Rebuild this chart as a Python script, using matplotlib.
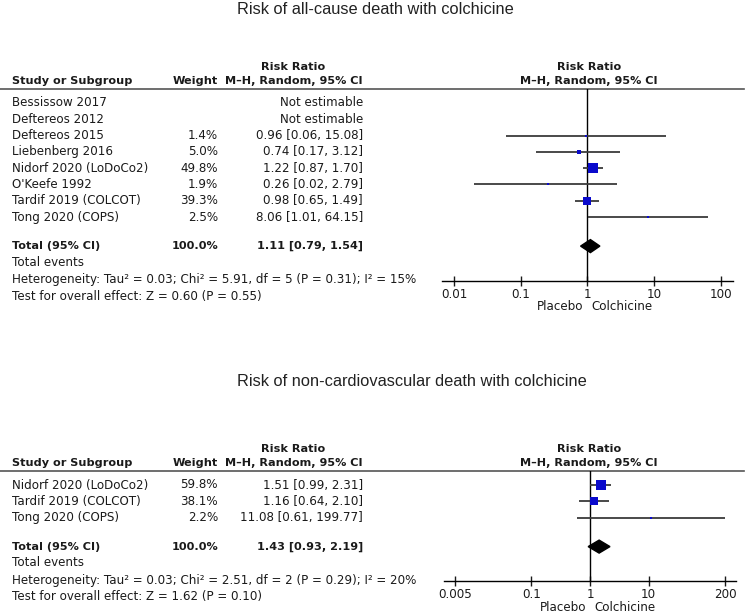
import numpy as np
import matplotlib
matplotlib.use('Agg')
import matplotlib.pyplot as plt
from matplotlib.patches import Polygon

# panel 1 - all-cause death
studies1 = ['Bessissow 2017', 'Deftereos 2012', 'Deftereos 2015', 'Liebenberg 2016',
            'Nidorf 2020 (LoDoCo2)', "O'Keefe 1992", 'Tardif 2019 (COLCOT)', 'Tong 2020 (COPS)']
weight1 = [None, None, 1.4, 5.0, 49.8, 1.9, 39.3, 2.5]
rr1 = [None, None, 0.96, 0.74, 1.22, 0.26, 0.98, 8.06]
lo1 = [None, None, 0.06, 0.17, 0.87, 0.02, 0.65, 1.01]
hi1 = [None, None, 15.08, 3.12, 1.70, 2.79, 1.49, 64.15]
total1 = (1.11, 0.79, 1.54)
het1 = 'Heterogeneity: Tau\u00b2 = 0.03; Chi\u00b2 = 5.91, df = 5 (P = 0.31); I\u00b2 = 15%'
test1 = 'Test for overall effect: Z = 0.60 (P = 0.55)'
ticks1 = [0.01, 0.1, 1, 10, 100]
ticklabels1 = ['0.01', '0.1', '1', '10', '100']

# panel 2 - non-cardiovascular death
studies2 = ['Nidorf 2020 (LoDoCo2)', 'Tardif 2019 (COLCOT)', 'Tong 2020 (COPS)']
weight2 = [59.8, 38.1, 2.2]
rr2 = [1.51, 1.16, 11.08]
lo2 = [0.99, 0.64, 0.61]
hi2 = [2.31, 2.10, 199.77]
total2 = (1.43, 0.93, 2.19)
het2 = 'Heterogeneity: Tau\u00b2 = 0.03; Chi\u00b2 = 2.51, df = 2 (P = 0.29); I\u00b2 = 20%'
test2 = 'Test for overall effect: Z = 1.62 (P = 0.10)'
ticks2 = [0.005, 0.1, 1, 10, 200]
ticklabels2 = ['0.005', '0.1', '1', '10', '200']

W, H = 749, 613
fig = plt.figure(figsize=(W / 100, H / 100), dpi=100)
bg = fig.add_axes([0, 0, 1, 1])
bg.set_xlim(0, W)
bg.set_ylim(H, 0)
bg.axis('off')

FS = 8.6
FSB = 8.1
TXT = '#1a1a1a'
BLUE = '#0a0acc'
ROW = 16.3


def fmt(r, l, h):
    return '%.2f [%.2f, %.2f]' % (r, l, h)


def panel(title, title_y, studies, weight, rr, lo, hi, total, het, test,
          ticks, ticklabels, line_y, ax_x0, ax_x1, one_x, decade):
    bg.text(237, title_y, title, fontsize=11.8, color='#222222', va='center',
            family='Liberation Sans')
    # headers
    bg.text(293, line_y - 22, 'Risk Ratio', fontsize=FSB, weight='bold', ha='center', va='center', color=TXT)
    bg.text(589, line_y - 22, 'Risk Ratio', fontsize=FSB, weight='bold', ha='center', va='center', color=TXT)
    hy = line_y - 8
    bg.text(12, hy, 'Study or Subgroup', fontsize=FSB, weight='bold', va='center', color=TXT)
    bg.text(218, hy, 'Weight', fontsize=FSB, weight='bold', ha='right', va='center', color=TXT)
    bg.text(363, hy, 'M\u2013H, Random, 95% CI', fontsize=FSB, weight='bold', ha='right', va='center', color=TXT)
    bg.text(589, hy, 'M\u2013H, Random, 95% CI', fontsize=FSB, weight='bold', ha='center', va='center', color=TXT)
    bg.plot([0, 744], [line_y, line_y], color='#555555', lw=1.2)

    rows = [line_y + 14 + i * ROW for i in range(len(studies))]
    tot_y = rows[-1] + 29
    ev_y = tot_y + ROW
    het_y = ev_y + ROW + 1
    test_y = het_y + ROW
    axis_y = het_y + 1

    for y, s, w, r, l, h in zip(rows, studies, weight, rr, lo, hi):
        bg.text(12, y, s, fontsize=FS, va='center', color=TXT)
        if r is None:
            bg.text(363, y, 'Not estimable', fontsize=FS, ha='right', va='center', color=TXT)
        else:
            bg.text(218, y, '%.1f%%' % w, fontsize=FS, ha='right', va='center', color=TXT)
            bg.text(363, y, fmt(r, l, h), fontsize=FS, ha='right', va='center', color=TXT)
    bg.text(12, tot_y, 'Total (95% CI)', fontsize=FSB, weight='bold', va='center', color=TXT)
    bg.text(218, tot_y, '100.0%', fontsize=FSB, weight='bold', ha='right', va='center', color=TXT)
    bg.text(363, tot_y, fmt(*total), fontsize=FSB, weight='bold', ha='right', va='center', color=TXT)
    bg.text(12, ev_y, 'Total events', fontsize=FS, va='center', color=TXT)
    bg.text(12, het_y, het, fontsize=FS, va='center', color=TXT)
    bg.text(12, test_y, test, fontsize=FS, va='center', color=TXT)

    # forest axes, y in pixels
    lim = (10 ** ((ax_x0 - one_x) / decade), 10 ** ((ax_x1 - one_x) / decade))
    ax = fig.add_axes([ax_x0 / W, 1 - axis_y / H, (ax_x1 - ax_x0) / W, (axis_y - line_y) / H])
    ax.set_xscale('log')
    ax.set_xlim(lim)
    ax.set_ylim(axis_y, line_y)
    ax.patch.set_alpha(0)
    for sp in ['top', 'right', 'left']:
        ax.spines[sp].set_visible(False)
    ax.spines['bottom'].set_linewidth(1.0)
    ax.set_yticks([])
    ax.set_xticks(ticks)
    ax.set_xticklabels(ticklabels)
    ax.minorticks_off()
    ax.tick_params(axis='x', direction='inout', length=7, width=1, labelsize=FS, pad=1.5, colors=TXT)
    ax.axvline(1, color='k', lw=1)
    for y, w, r, l, h in zip(rows, weight, rr, lo, hi):
        if r is None:
            continue
        ax.hlines(y, l, h, color='#3a3a3a', lw=1.3)
        side = max(1.42 * np.sqrt(w), 2.2)
        ax.plot(r, y, 's', ms=side * 0.72, color=BLUE, mec=BLUE, mew=0)
    r, l, h = total
    ax.add_patch(Polygon([(l, tot_y), (r, tot_y - 6.5), (h, tot_y), (r, tot_y + 6.5)],
                         closed=True, color='k', clip_on=False))
    bg.text(one_x - 4, axis_y + 26, 'Placebo', fontsize=FS, ha='right', va='center', color=TXT)
    bg.text(one_x + 4, axis_y + 26, 'Colchicine', fontsize=FS, ha='left', va='center', color=TXT)


panel('Risk of all-cause death with colchicine', 10, studies1, weight1, rr1, lo1, hi1, total1,
      het1, test1, ticks1, ticklabels1, 89, 442, 733, 587.4, 66.7)
panel('Risk of non-cardiovascular death with colchicine', 381, studies2, weight2, rr2, lo2, hi2,
      total2, het2, test2, ticks2, ticklabels2, 471, 444, 736, 590, 58.7)

fig.savefig('out.png', dpi=100)
